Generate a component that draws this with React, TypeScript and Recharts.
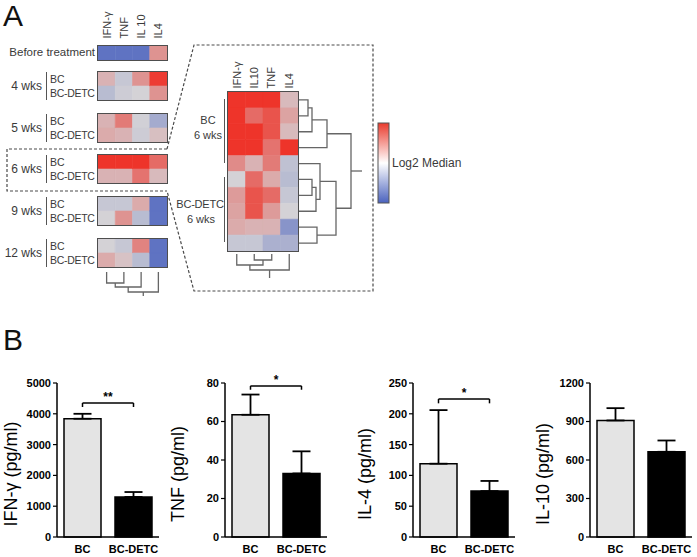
import React from 'react';
import { BarChart, Bar, Cell, XAxis, YAxis, ErrorBar, ReferenceLine, ScatterChart, Scatter } from 'recharts';

// ---- panel A data (log2 median, scaled to -1..1) ----
const leftCols = ['IFN-γ', 'TNF', 'IL 10', 'IL4'];
const rightCols = ['IFN-γ', 'IL10', 'TNF', 'IL4'];
const groups = ['BC', 'BC-DETC'];
const weeks = ['4 wks', '5 wks', '6 wks', '9 wks', '12 wks'];

const beforeTreatment = [-0.85, -0.85, -0.85, 0.4];
const bcByWeek = [
  [0.2, -0.1, 0.4, 0.95],
  [0.2, 0.55, -0.02, -0.35],
  [1, 1, 1, 0.65],
  [-0.1, -0.1, 0.25, -0.85],
  [0.0, -0.1, 0.5, -0.85],
];
const detcByWeek = [
  [-0.2, -0.05, 0.0, 0.4],
  [0.25, 0.2, -0.05, 0.12],
  [0.2, 0.2, 0.6, 0.15],
  [0.0, 0.4, -0.2, -0.85],
  [0.25, 0.1, -0.2, -0.85],
];
const sixWeekSamples = [
  [1, 1, 1, 0.15],
  [1, 0.65, 0.8, 0.3],
  [1, 1, 0.8, 0.15],
  [1, 1, 0.6, 1],
  [0.45, 0.2, 0.55, -0.15],
  [0.0, 0.65, 0.25, -0.2],
  [0.35, 0.8, 0.65, -0.1],
  [0.3, 0.8, 0.35, 0.0],
  [0.25, 0.2, 0.2, -0.55],
  [-0.1, -0.1, -0.3, -0.3],
];

// dendrogram merges: [posA, heightA, posB, heightB, mergeHeight]
type Link = [number, number, number, number, number];
const leftColLinks: Link[] = [[0.5, 5, 1.5, 5, 16], [1.0, 16, 2.5, 5, 20], [1.75, 20, 3.5, 5, 25]];
const rightColLinks: Link[] = [[1.5, 3, 2.5, 3, 9], [0.5, 3, 2.0, 9, 14], [1.25, 14, 3.5, 3, 19]];
const rowLinks: Link[] = [
  [0.5, 1, 1.5, 1, 10], [1.0, 10, 2.5, 1, 14], [1.75, 14, 3.5, 1, 29],
  [5.5, 1, 6.5, 1, 14], [6.0, 14, 7.5, 1, 18], [4.5, 1, 6.75, 18, 22],
  [8.5, 1, 9.5, 1, 19], [5.625, 22, 9.0, 19, 38], [2.625, 29, 7.3125, 38, 53],
];

// ---- panel B data ----
const categories = ['BC', 'BC-DETC'];
const ifnMean = [3840, 1300];
const ifnUpper = [4000, 1460];
const tnfMean = [63.5, 33];
const tnfUpper = [74, 44.5];
const il4Mean = [119, 74.5];
const il4Upper = [206, 91];
const il10Mean = [908, 664];
const il10Upper = [1004, 752];
const ifnTicks = [0, 1000, 2000, 3000, 4000, 5000];
const tnfTicks = [0, 20, 40, 60, 80];
const il4Ticks = [0, 50, 100, 150, 200, 250];
const il10Ticks = [0, 300, 600, 900, 1200];

const NEG = [74, 98, 190];
const MID = [212, 210, 214];
const POS = [238, 52, 42];
function heatColor(v: number) {
  const t = Math.min(1, Math.abs(v));
  const end = v < 0 ? NEG : POS;
  return `rgb(${MID.map((m, i) => Math.round(m + (end[i] - m) * t)).join(',')})`;
}

const FONT = '"Liberation Sans", Arial, sans-serif';
const GRAY = '#3a3a3a';

function Heat({ rows, left, top, width, height }: { rows: number[][]; left: number; top: number; width: number; height: number }) {
  const data = rows.map((_, i) => ({ row: i, c0: 1, c1: 1, c2: 1, c3: 1 }));
  return (
    <div style={{ position: 'absolute', left: left - 1.5, top: top - 1.5, border: '1.5px solid #4e4e4e', width, height }}>
      <BarChart layout="vertical" width={width} height={height} data={data} margin={{ top: 0, right: 0, bottom: 0, left: 0 }} barCategoryGap={0} barGap={0}>
        <XAxis type="number" domain={[0, 4]} hide />
        <YAxis type="category" dataKey="row" hide />
        {[0, 1, 2, 3].map(j => (
          <Bar key={j} dataKey={`c${j}`} stackId="h" isAnimationActive={false}>
            {rows.map((r, i) => <Cell key={i} fill={heatColor(r[j])} stroke={heatColor(r[j])} strokeWidth={0.6} />)}
          </Bar>
        ))}
      </BarChart>
    </div>
  );
}

function Dendro({ links, stemEnd, vertical, left, top, width, height, span, depth }: {
  links: Link[]; stemEnd: number; vertical: boolean; left: number; top: number; width: number; height: number; span: number; depth: number;
}) {
  const pt = (p: number, h: number) => (vertical ? { x: p, y: h } : { x: h, y: p });
  const segs = links.map(([p1, h1, p2, h2, hm]) => [pt(p1, h1), pt(p1, hm), pt(p2, hm), pt(p2, h2)]);
  const last = links[links.length - 1];
  const mid = (last[0] + last[2]) / 2;
  segs.push([pt(mid, last[4]), pt(mid, stemEnd)]);
  return (
    <div style={{ position: 'absolute', left, top }}>
      <ScatterChart width={width} height={height} margin={{ top: 0, right: 0, bottom: 0, left: 0 }}>
        <XAxis type="number" dataKey="x" domain={vertical ? [0, span] : [0, depth]} hide />
        <YAxis type="number" dataKey="y" domain={vertical ? [0, depth] : [0, span]} reversed hide />
        {segs.map((s, i) => (
          <Scatter key={i} data={s} line={{ stroke: '#666', strokeWidth: 1.3 }} shape={() => <g />} isAnimationActive={false} legendType="none" />
        ))}
      </ScatterChart>
    </div>
  );
}

function Txt({ x, y, children, align = 'left', size = 11, rotate = false, w = 120, color = GRAY, weight = 400, spacing = 0 }: any) {
  const style: React.CSSProperties = {
    position: 'absolute', fontFamily: FONT, fontSize: size, color, fontWeight: weight, whiteSpace: 'nowrap', lineHeight: `${size + 2}px`,
    width: w, textAlign: align, top: y - (size + 2) / 2, letterSpacing: spacing,
  };
  if (align === 'left') style.left = x;
  else if (align === 'right') style.left = x - w;
  else style.left = x - w / 2;
  if (rotate) {
    style.left = x - w / 2;
    style.transform = 'rotate(-90deg)';
  }
  return <div style={style}>{children}</div>;
}

function Header({ cols, centers, bottom }: { cols: string[]; centers: number[]; bottom: number }) {
  return (
    <>
      {cols.map((c, i) => (
        <Txt key={c} x={centers[i]} y={bottom - 20} rotate w={40} align="left">{c}</Txt>
      ))}
    </>
  );
}

function CytoChart({ axisX, label, labelX, mean, upper, ticks, sig }: any) {
  const data = categories.map((c, i) => ({ name: c, value: mean[i], err: [0, upper[i] - mean[i]] }));
  const max = ticks[ticks.length - 1];
  const tickStyle = { fill: '#000', fontSize: 11, fontWeight: 700, fontFamily: FONT };
  return (
    <>
      <div style={{ position: 'absolute', left: axisX - 50, top: 363 }}>
        <BarChart width={156} height={198} data={data} margin={{ top: 20, right: 4, bottom: 0, left: 0 }}>
          <XAxis dataKey="name" tickLine={false} axisLine={{ stroke: '#000', strokeWidth: 1.5 }} tick={tickStyle} height={24} interval={0} />
          <YAxis domain={[0, max]} ticks={ticks} width={50} tickSize={4} axisLine={{ stroke: '#000', strokeWidth: 1.5 }} tickLine={{ stroke: '#000', strokeWidth: 1.2 }} tick={tickStyle} />
          <Bar dataKey="value" barSize={37} stroke="#000" strokeWidth={1.5} isAnimationActive={false}>
            {data.map((_, i) => <Cell key={i} fill={i === 0 ? '#e4e4e4' : '#000'} />)}
            <ErrorBar dataKey="err" width={9} stroke="#000" strokeWidth={1.8} direction="y" />
          </Bar>
          {sig && (
            <ReferenceLine segment={[{ x: 'BC', y: sig.y }, { x: 'BC-DETC', y: sig.y }]} stroke="#000" strokeWidth={1.5} ifOverflow="visible"
              label={{ value: sig.text, position: 'top', fill: '#000', fontSize: 12, fontWeight: 700, fontFamily: FONT, offset: 2 }} />
          )}
          {sig && <ReferenceLine segment={[{ x: 'BC', y: sig.y }, { x: 'BC', y: sig.drop }]} stroke="#000" strokeWidth={1.5} ifOverflow="visible" />}
          {sig && <ReferenceLine segment={[{ x: 'BC-DETC', y: sig.y }, { x: 'BC-DETC', y: sig.drop }]} stroke="#000" strokeWidth={1.5} ifOverflow="visible" />}
        </BarChart>
      </div>
      <Txt x={labelX} y={474} rotate w={160} align="center" size={18} color="#000">{label}</Txt>
    </>
  );
}

const blockTops = [72, 114, 155, 197, 239];
const leftCenters = [106.6, 124, 141.2, 158.4];
const rightCenters = [236.7, 254, 271.3, 288.6];

export default function App() {
  return (
    <div style={{ position: 'absolute', left: 0, top: 0, width: 697, height: 557, overflow: 'hidden', background: '#fff', fontFamily: FONT }}>
      <Txt x={3} y={16} size={30} color="#111">A</Txt>
      <Txt x={3} y={340} size={30} color="#111">B</Txt>

      {/* dashed zoom outline */}
      <svg width={697} height={557} style={{ position: 'absolute', left: 0, top: 0 }}>
        <g fill="none" stroke="#4a4a4a" strokeWidth={1.2} strokeDasharray="3 2">
          <polyline points="167,149 7,149 7,191 167,191" />
          <polyline points="167,149 194,45 373,45 373,291 194,291 167,191" />
        </g>
        <defs>
          <linearGradient id="cbar" x1="0" y1="0" x2="0" y2="1">
            <stop offset="0" stopColor="#ea3b2d" />
            <stop offset="0.5" stopColor="#ffffff" />
            <stop offset="1" stopColor="#4a62be" />
          </linearGradient>
        </defs>
        <rect x={378} y={123} width={11} height={80} fill="url(#cbar)" stroke="#555" strokeWidth={1} />
      </svg>
      <Txt x={392} y={163} size={12}>Log2 Median</Txt>

      {/* left heatmap */}
      <Header cols={leftCols} centers={leftCenters} bottom={38} />
      <Txt x={95} y={53} align="right" w={100} size={11.5}>Before treatment</Txt>
      <Heat rows={[beforeTreatment]} left={98} top={46} width={69} height={14} />
      {weeks.map((wk, k) => {
        const t = blockTops[k];
        return (
          <React.Fragment key={wk}>
            <Txt x={42} y={t + 14} align="right" w={50} size={12}>{wk}</Txt>
            <div style={{ position: 'absolute', left: 45.5, top: t, width: 1.5, height: 28, background: '#555' }} />
            <Txt x={50} y={t + 7} size={10.5}>{groups[0]}</Txt>
            <Txt x={50} y={t + 21} size={10.5} spacing={-0.3}>{groups[1]}</Txt>
            <Heat rows={[bcByWeek[k], detcByWeek[k]]} left={98} top={t} width={69} height={28} />
          </React.Fragment>
        );
      })}
      <Dendro links={leftColLinks} stemEnd={29} vertical left={98} top={267} width={69} height={30} span={4} depth={30} />

      {/* zoomed 6 wks heatmap */}
      <Header cols={rightCols} centers={rightCenters} bottom={88} />
      <Heat rows={sixWeekSamples} left={228} top={92} width={70} height={159} />
      <Dendro links={rowLinks} stemEnd={64} vertical={false} left={298} top={92} width={66} height={159} span={10} depth={66} />
      <Dendro links={rightColLinks} stemEnd={27} vertical left={228} top={251} width={70} height={28} span={4} depth={28} />
      <div style={{ position: 'absolute', left: 223.5, top: 99, width: 1.5, height: 64, background: '#555' }} />
      <div style={{ position: 'absolute', left: 223.5, top: 177, width: 1.5, height: 65, background: '#555' }} />
      <Txt x={208} y={120} align="center" w={60}>{groups[0]}</Txt>
      <Txt x={208} y={135} align="center" w={60}>6 wks</Txt>
      <Txt x={200} y={204} align="center" w={60} spacing={-0.2}>{groups[1]}</Txt>
      <Txt x={201} y={219} align="center" w={60}>6 wks</Txt>

      {/* panel B */}
      <CytoChart axisX={57} label="IFN-γ (pg/ml)" labelX={11} mean={ifnMean} upper={ifnUpper} ticks={ifnTicks} sig={{ y: 4350, drop: 4220, text: '**' }} />
      <CytoChart axisX={225} label="TNF (pg/ml)" labelX={178} mean={tnfMean} upper={tnfUpper} ticks={tnfTicks} sig={{ y: 78.5, drop: 76.5, text: '*' }} />
      <CytoChart axisX={413} label="IL-4 (pg/ml)" labelX={365} mean={il4Mean} upper={il4Upper} ticks={il4Ticks} sig={{ y: 224, drop: 217, text: '*' }} />
      <CytoChart axisX={590} label="IL-10 (pg/ml)" labelX={543} mean={il10Mean} upper={il10Upper} ticks={il10Ticks} />
    </div>
  );
}
